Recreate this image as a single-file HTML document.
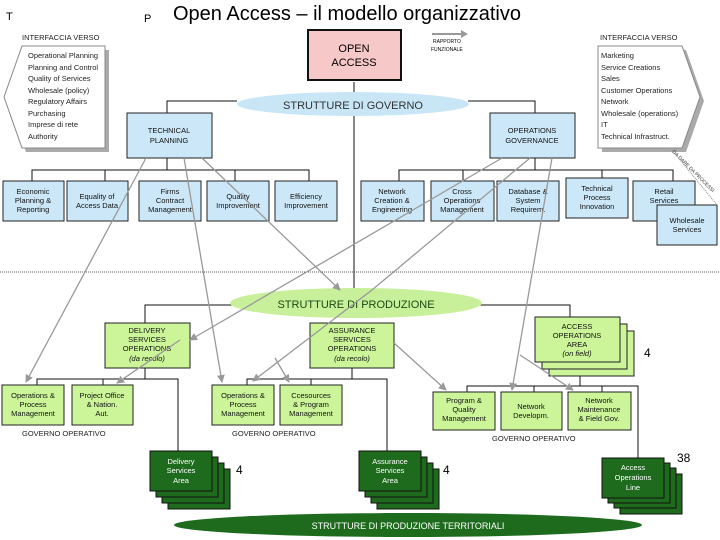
<!DOCTYPE html>
<html><head><meta charset="utf-8"><style>
html,body{margin:0;padding:0;background:#fff}
svg{display:block;font-family:"Liberation Sans",sans-serif}
.b{fill:#cce8f8;stroke:#222;stroke-width:1}
.g{fill:#ccf59a;stroke:#222;stroke-width:1}
.d{fill:#1e6b1e;stroke:#111;stroke-width:1}
.t{font-size:7.5px;fill:#111;text-anchor:middle}
.tw{font-size:7.5px;fill:#fff;text-anchor:middle}
.l{stroke:#111;stroke-width:1;fill:none}
.a{stroke:#999;stroke-width:1.3;fill:none;marker-end:url(#ar)}
.s{font-size:7.5px;fill:#222}
</style></head><body>
<svg width="720" height="540" viewBox="0 0 720 540">
<defs><marker id="ar" markerWidth="8" markerHeight="8" refX="7" refY="4" orient="auto" markerUnits="userSpaceOnUse"><path d="M0,0 L8,4 L0,8 z" fill="#999"/></marker></defs>
<text x="6" y="20" font-size="11">T</text>
<text x="144" y="22" font-size="11">P</text>
<text x="173" y="20" font-size="20">Open Access – il modello organizzativo</text>
<text x="22" y="40" class="s">INTERFACCIA VERSO</text>
<text x="600" y="40" class="s">INTERFACCIA VERSO</text>
<!-- hexagons -->
<polygon points="26,50 109,50 109,152 26,152 8,101" fill="#aaa"/>
<polygon points="22,46 105,46 105,148 22,148 4,97" fill="#fff" stroke="#888"/>
<g class="s"><text x="28" y="58">Operational Planning</text><text x="28" y="70">Planning and Control</text><text x="28" y="81">Quality of Services</text><text x="28" y="93">Wholesale (policy)</text><text x="28" y="104">Regulatory Affairs</text><text x="28" y="116">Purchasing</text><text x="28" y="127">Imprese di rete</text><text x="28" y="139">Authority</text></g>
<polygon points="602,50 686,50 704,101 686,152 602,152" fill="#aaa"/>
<polygon points="598,46 682,46 700,97 682,148 598,148" fill="#fff" stroke="#888"/>
<g class="s"><text x="601" y="58">Marketing</text><text x="601" y="70">Service Creations</text><text x="601" y="81">Sales</text><text x="601" y="93">Customer Operations</text><text x="601" y="104">Network</text><text x="601" y="116">Wholesale (operations)</text><text x="601" y="127">IT</text><text x="601" y="139">Technical Infrastruct.</text></g>
<!-- open access -->
<line x1="354" y1="82" x2="354" y2="290" class="l"/>
<rect x="308" y="30" width="93" height="50" fill="#f7c8c8" stroke="#111" stroke-width="2"/>
<text x="354" y="52" font-size="11" text-anchor="middle">OPEN</text>
<text x="354" y="66" font-size="11" text-anchor="middle">ACCESS</text>
<line x1="432" y1="34" x2="462" y2="34" stroke="#999" stroke-width="2"/><path d="M461,30 L468,34 L461,38z" fill="#999"/>
<text x="433" y="43" font-size="5">RAPPORTO</text><text x="431" y="51" font-size="5">FUNZIONALE</text>
<!-- governo -->
<polyline points="237,101 167,101 167,113" class="l"/>
<polyline points="468,101 535,101 535,113" class="l"/>
<ellipse cx="353" cy="104" rx="116" ry="12" fill="#c9e6f7"/>
<text x="353" y="109" font-size="11" text-anchor="middle" fill="#333">STRUTTURE DI GOVERNO</text>
<rect x="127" y="113" width="85" height="45" class="b"/>
<text x="169" y="133" class="t">TECHNICAL</text><text x="169" y="143" class="t">PLANNING</text>
<rect x="490" y="113" width="85" height="45" class="b"/>
<text x="532" y="133" class="t">OPERATIONS</text><text x="532" y="143" class="t">GOVERNANCE</text>
<line x1="167" y1="158" x2="167" y2="170" class="l"/>
<polyline points="32,181 32,170 309,170 309,181" class="l"/>
<line x1="105" y1="170" x2="105" y2="181" class="l"/><line x1="235" y1="170" x2="235" y2="181" class="l"/>
<line x1="535" y1="158" x2="535" y2="170" class="l"/>
<polyline points="399,181 399,170 673,170 673,181" class="l"/>
<line x1="463" y1="170" x2="463" y2="181" class="l"/><line x1="602" y1="170" x2="602" y2="178" class="l"/>
<g>
<rect x="3" y="181" width="61" height="40" class="b"/><text x="33" y="194" class="t">Economic</text><text x="33" y="203" class="t">Planning &amp;</text><text x="33" y="212" class="t">Reporting</text>
<rect x="67" y="181" width="61" height="40" class="b"/><text x="97" y="199" class="t">Equality of</text><text x="97" y="208" class="t">Access Data</text>
<rect x="139" y="181" width="62" height="40" class="b"/><text x="170" y="194" class="t">Firms</text><text x="170" y="203" class="t">Contract</text><text x="170" y="212" class="t">Management</text>
<rect x="207" y="181" width="62" height="40" class="b"/><text x="238" y="199" class="t">Quality</text><text x="238" y="208" class="t">Improvement</text>
<rect x="275" y="181" width="62" height="40" class="b"/><text x="306" y="199" class="t">Efficiency</text><text x="306" y="208" class="t">Improvement</text>
<rect x="361" y="181" width="63" height="40" class="b"/><text x="392" y="194" class="t">Network</text><text x="392" y="203" class="t">Creation &amp;</text><text x="392" y="212" class="t">Engineering</text>
<rect x="431" y="181" width="63" height="40" class="b"/><text x="462" y="194" class="t">Cross</text><text x="462" y="203" class="t">Operations</text><text x="462" y="212" class="t">Management</text>
<rect x="497" y="181" width="62" height="40" class="b"/><text x="528" y="194" class="t">Database &amp;</text><text x="528" y="203" class="t">System</text><text x="528" y="212" class="t">Requirem.</text>
<rect x="566" y="178" width="62" height="40" class="b"/><text x="597" y="191" class="t">Technical</text><text x="597" y="200" class="t">Process</text><text x="597" y="209" class="t">Innovation</text>
<rect x="633" y="181" width="62" height="40" class="b"/><text x="664" y="194" class="t">Retail</text><text x="664" y="203" class="t">Services</text>
<rect x="657" y="205" width="60" height="40" class="b"/><text x="687" y="223" class="t">Wholesale</text><text x="687" y="232" class="t">Services</text>
</g>
<text x="672" y="152" font-size="5" fill="#333" transform="rotate(45 672 152)">DA DARE DA PROCESSI</text>
<line x1="0" y1="272" x2="720" y2="272" stroke="#555" stroke-dasharray="1,1"/>
<!-- produzione -->
<polyline points="232,305 145,305 145,323" class="l"/>
<polyline points="480,305 570,305 570,317" class="l"/>
<ellipse cx="356" cy="303" rx="126" ry="15" fill="#c8f09a"/>
<text x="356" y="308" font-size="11" text-anchor="middle" fill="#1c4a14">STRUTTURE DI PRODUZIONE</text>
<!-- left branch -->
<line x1="145" y1="368" x2="145" y2="379" class="l"/>
<polyline points="37,385 37,379 178,379 178,451" class="l"/><line x1="103" y1="379" x2="103" y2="385" class="l"/>
<rect x="105" y="323" width="85" height="45" class="g"/>
<text x="147" y="333" class="t">DELIVERY</text><text x="147" y="342" class="t">SERVICES</text><text x="147" y="351" class="t">OPERATIONS</text><text x="147" y="361" class="t" font-style="italic" font-size="7">(da recolo)</text>
<rect x="2" y="385" width="62" height="40" class="g"/><text x="33" y="398" class="t">Operations &amp;</text><text x="33" y="407" class="t">Process</text><text x="33" y="416" class="t">Management</text>
<rect x="72" y="385" width="61" height="40" class="g"/><text x="102" y="398" class="t">Project Office</text><text x="102" y="407" class="t">&amp; Nation.</text><text x="102" y="416" class="t">Aut.</text>
<text x="22" y="436" class="s">GOVERNO OPERATIVO</text>
<rect x="168" y="469" width="62" height="40" class="d"/><rect x="162" y="463" width="62" height="40" class="d"/><rect x="156" y="457" width="62" height="40" class="d"/><rect x="150" y="451" width="62" height="40" class="d"/>
<text x="181" y="464" class="tw">Delivery</text><text x="181" y="473" class="tw">Services</text><text x="181" y="483" class="tw">Area</text>
<text x="236" y="474" font-size="12">4</text>
<!-- middle -->
<line x1="352" y1="368" x2="352" y2="379" class="l"/>
<polyline points="247,385 247,379 387,379 387,451" class="l"/><line x1="311" y1="379" x2="311" y2="385" class="l"/>
<rect x="310" y="323" width="84" height="45" class="g"/>
<text x="352" y="333" class="t">ASSURANCE</text><text x="352" y="342" class="t">SERVICES</text><text x="352" y="351" class="t">OPERATIONS</text><text x="352" y="361" class="t" font-style="italic" font-size="7">(da recolo)</text>
<rect x="212" y="385" width="62" height="40" class="g"/><text x="243" y="398" class="t">Operations &amp;</text><text x="243" y="407" class="t">Process</text><text x="243" y="416" class="t">Management</text>
<rect x="280" y="385" width="62" height="40" class="g"/><text x="311" y="398" class="t">Ccesources</text><text x="311" y="407" class="t">&amp; Program</text><text x="311" y="416" class="t">Management</text>
<text x="232" y="436" class="s">GOVERNO OPERATIVO</text>
<rect x="377" y="469" width="62" height="40" class="d"/><rect x="371" y="463" width="62" height="40" class="d"/><rect x="365" y="457" width="62" height="40" class="d"/><rect x="359" y="451" width="62" height="40" class="d"/>
<text x="390" y="464" class="tw">Assurance</text><text x="390" y="473" class="tw">Services</text><text x="390" y="483" class="tw">Area</text>
<text x="443" y="474" font-size="12">4</text>
<!-- right -->
<line x1="580" y1="362" x2="580" y2="386" class="l"/>
<polyline points="467,392 467,386 638,386 638,458" class="l"/><line x1="534" y1="386" x2="534" y2="392" class="l"/><line x1="602" y1="386" x2="602" y2="392" class="l"/>
<rect x="549" y="331" width="85" height="45" class="g"/><rect x="542" y="324" width="85" height="45" class="g"/><rect x="535" y="317" width="85" height="45" class="g"/>
<text x="577" y="329" class="t">ACCESS</text><text x="577" y="338" class="t">OPERATIONS</text><text x="577" y="347" class="t">AREA</text><text x="577" y="356" class="t" font-style="italic" font-size="7">(on field)</text>
<text x="644" y="357" font-size="12">4</text>
<rect x="433" y="392" width="62" height="38" class="g"/><text x="464" y="403" class="t">Program &amp;</text><text x="464" y="412" class="t">Quality</text><text x="464" y="421" class="t">Management</text>
<rect x="501" y="392" width="61" height="38" class="g"/><text x="531" y="409" class="t">Network</text><text x="531" y="418" class="t">Developm.</text>
<rect x="568" y="392" width="63" height="38" class="g"/><text x="599" y="403" class="t">Network</text><text x="599" y="412" class="t">Maintenance</text><text x="599" y="421" class="t">&amp; Field Gov.</text>
<text x="492" y="441" class="s">GOVERNO OPERATIVO</text>
<rect x="620" y="474" width="62" height="40" class="d"/><rect x="614" y="468" width="62" height="40" class="d"/><rect x="608" y="463" width="62" height="40" class="d"/><rect x="602" y="458" width="62" height="40" class="d"/>
<text x="633" y="470" class="tw">Access</text><text x="633" y="480" class="tw">Operations</text><text x="633" y="490" class="tw">Line</text>
<text x="677" y="462" font-size="12">38</text>
<ellipse cx="408" cy="525" rx="234" ry="12" fill="#1e6b1e"/>
<text x="408" y="529" font-size="9" text-anchor="middle" fill="#fff">STRUTTURE DI PRODUZIONE TERRITORIALI</text>
<!-- gray arrows -->
<line x1="146" y1="158" x2="26" y2="382" class="a"/>
<line x1="184" y1="158" x2="222" y2="382" class="a"/>
<line x1="202" y1="158" x2="340" y2="290" class="a"/>
<line x1="502" y1="158" x2="190" y2="340" class="a"/>
<polyline points="530,158 372,290 253,381" class="a"/>
<line x1="552" y1="158" x2="512" y2="390" class="a"/>
<line x1="394" y1="343" x2="446" y2="390" class="a"/>
<line x1="520" y1="355" x2="573" y2="390" class="a"/>
<line x1="180" y1="340" x2="117" y2="383" class="a"/>
<line x1="275" y1="358" x2="289" y2="382" class="a"/>
<line x1="672" y1="150" x2="717" y2="205" stroke="#888" stroke-dasharray="1,1"/>
</svg>
</body></html>
